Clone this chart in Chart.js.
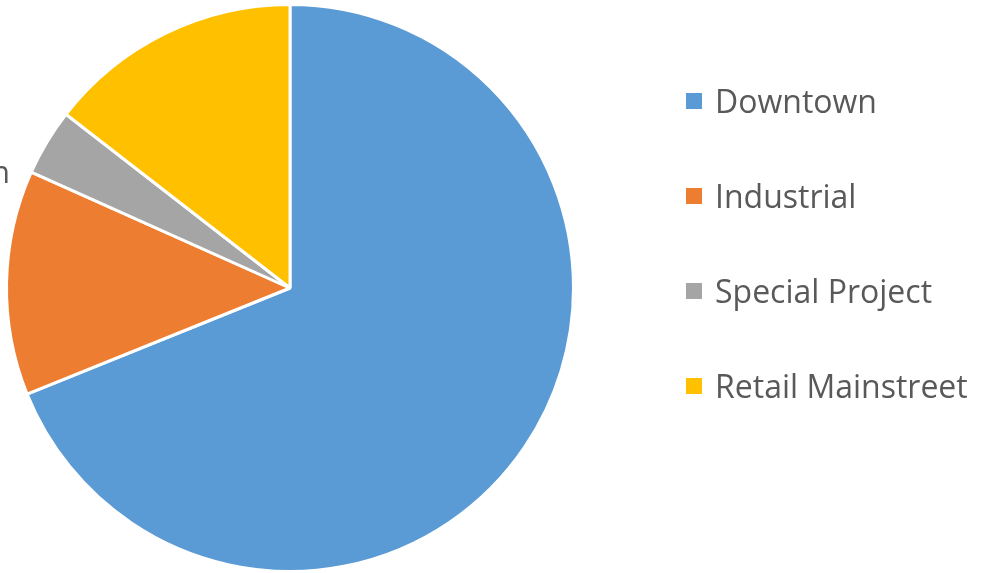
<!DOCTYPE html>
<html>
<head>
<meta charset="utf-8">
<script src="https://cdn.jsdelivr.net/npm/chart.js@4.4.0/dist/chart.umd.min.js"></script>
<style>
  html, body { margin: 0; padding: 0; background: #fff; }
  .wrap { position: relative; width: 981px; height: 573px; overflow: hidden; }
  canvas { position: absolute; left: 0; top: 0; }
  .chart-legend { position: absolute; left: 686px; top: 53px; margin: 0; padding: 0; list-style: none;
    font-family: "Open Sans", sans-serif; font-size: 32px; color: #595959; }
  .chart-legend li { height: 95px; display: flex; align-items: center; white-space: nowrap; }
  .chart-legend-color { display: inline-block; width: 16px; height: 16px; margin-right: 13px; }
</style>
</head>
<body>
<div class="wrap">
  <canvas id="pie" width="981" height="573"></canvas>
  <ul class="chart-legend" id="legend"></ul>
</div>
<script>
// pie data (share of total, %)
const categories = ['Downtown', 'Industrial', 'Special Project', 'Retail Mainstreet'];
const shares = [68.9, 12.8, 3.8, 14.5];
const colors = ['#5B9BD5', '#ED7D31', '#A5A5A5', '#FFC000'];

// leftover label that sits mostly outside the frame on the left
const cutLabel = {
  id: 'cutLabel',
  afterDraw(chart) {
    const ctx = chart.ctx;
    ctx.save();
    ctx.font = '31px "Open Sans", sans-serif';
    ctx.fillStyle = '#595959';
    ctx.textAlign = 'right';
    ctx.textBaseline = 'alphabetic';
    ctx.fillText('Downtown', 10, 183);
    ctx.restore();
  }
};

const ctx = document.getElementById('pie').getContext('2d');
new Chart(ctx, {
  type: 'pie',
  data: {
    labels: categories,
    datasets: [{
      data: shares,
      backgroundColor: colors,
      borderColor: '#ffffff',
      borderWidth: 3
    }]
  },
  options: {
    responsive: false,
    animation: false,
    layout: { padding: { left: 4, right: 405, top: 3, bottom: 0 } },
    plugins: {
      legend: { display: false },
      tooltip: { enabled: false }
    }
  },
  plugins: [cutLabel]
});

// legend list built from the same arrays
const legend = document.getElementById('legend');
categories.forEach((name, i) => {
  const li = document.createElement('li');
  li.innerHTML = '<span class="chart-legend-color" style="background:' + colors[i] + '"></span><span>' + name + '</span>';
  legend.appendChild(li);
});
</script>
</body>
</html>
